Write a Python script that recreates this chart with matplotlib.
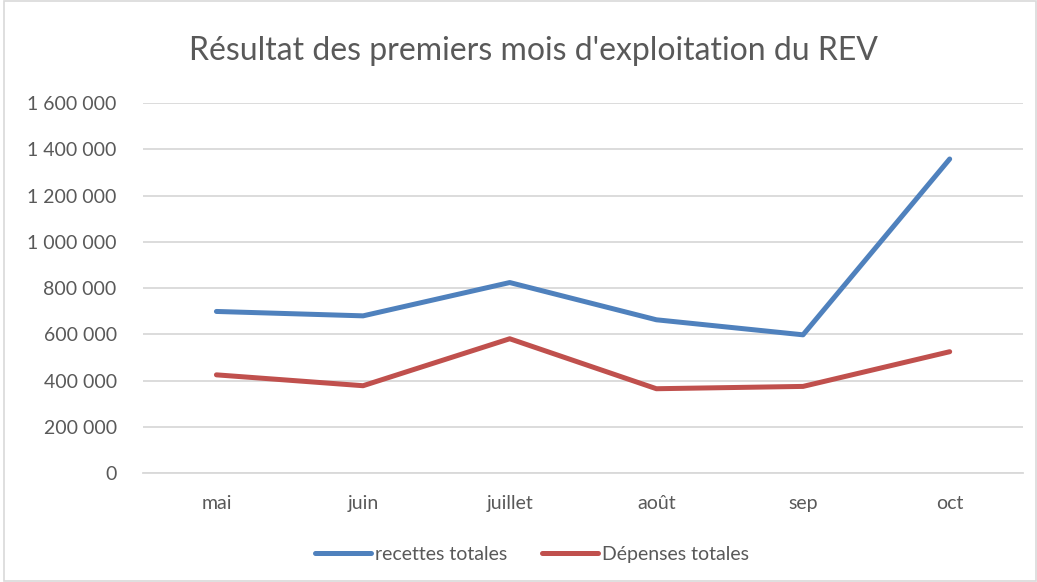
import matplotlib.pyplot as plt
from matplotlib.ticker import FuncFormatter
from matplotlib.patches import Rectangle

mois = ['mai', 'juin', 'juillet', 'août', 'sep', 'oct']
recettes = [699000, 680000, 824000, 663000, 598000, 1358000]
depenses = [425000, 378000, 581000, 365000, 375000, 525000]
y_ticks = [0, 200000, 400000, 600000, 800000, 1000000, 1200000, 1400000, 1600000]

plt.rcParams['font.family'] = ['Lato', 'DejaVu Sans']
txt = '#595959'

fig = plt.figure(figsize=(10.37, 5.82), dpi=100)
ax = fig.add_axes([0.138, 0.187, 0.8485, 0.636])

x = range(len(mois))
ax.plot(x, recettes, color='#4F81BD', lw=3.6, solid_capstyle='round', label='recettes totales')
ax.plot(x, depenses, color='#C0504D', lw=3.6, solid_capstyle='round', label='Dépenses totales')

ax.set_xlim(-0.5, len(mois) - 0.5)
ax.set_ylim(0, 1600000)
ax.set_yticks(y_ticks)
ax.yaxis.set_major_formatter(FuncFormatter(lambda v, p: f'{int(v):,}'.replace(',', ' ')))
ax.set_xticks(list(x))
ax.set_xticklabels(mois)
ax.tick_params(axis='both', length=0, labelsize=14, colors=txt)
ax.tick_params(axis='y', pad=19)
ax.tick_params(axis='x', pad=16)
ax.grid(axis='y', color='#D9D9D9', lw=1.3)
ax.set_axisbelow(True)
for s in ['top', 'right', 'left']:
    ax.spines[s].set_visible(False)
ax.spines['bottom'].set_color('#D9D9D9')
ax.spines['bottom'].set_linewidth(1.3)

fig.text(0.514, 0.912, "Résultat des premiers mois d'exploitation du REV", ha='center', va='center',
         fontsize=23, color=txt)

fig.legend(loc='center', bbox_to_anchor=(0.513, 0.047), ncol=2, frameon=False, fontsize=14,
           labelcolor=txt, handlelength=2.9, handletextpad=0.2, columnspacing=1.8)

fig.patches.append(Rectangle((0.004, 0.002), 0.995, 0.996, transform=fig.transFigure,
                             fill=False, edgecolor='#D9D9D9', lw=1.2))

fig.savefig('out.png', dpi=100)
